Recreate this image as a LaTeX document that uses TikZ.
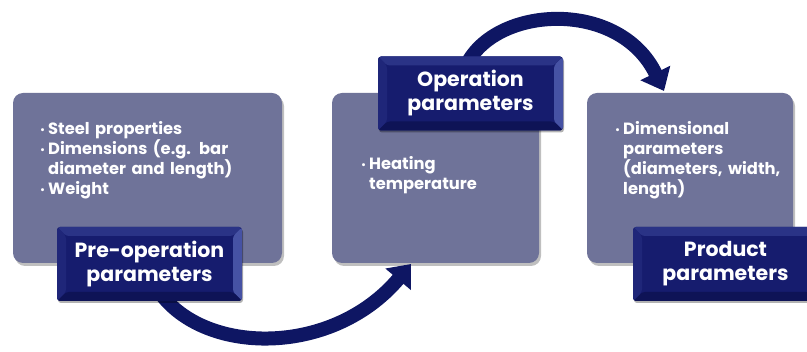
\documentclass[tikz,border=0pt]{standalone}
\usepackage{fontspec}
\setmainfont{Poppins}
\usetikzlibrary{arrows.meta,shadows}
\definecolor{boxc}{HTML}{6F7399}
\definecolor{navy}{HTML}{161C6E}
\definecolor{navyR}{HTML}{4652A4}
\definecolor{navyT}{HTML}{2A3386}
\definecolor{navyB}{HTML}{0E1356}
\definecolor{navyL}{HTML}{1F2679}
\definecolor{arrc}{HTML}{0E1663}
\newcommand\bitem[1]{\par\leftskip=8pt\noindent\hskip-8pt\makebox[8pt][l]{\raisebox{0.05ex}{\normalsize •}}#1\par}
\newcommand\nl{\hfil\break}
\tikzset{
  infobox/.style={fill=boxc, rounded corners=10pt, minimum width=#1, minimum height=170pt, inner sep=0pt,
    drop shadow={shadow xshift=2pt, shadow yshift=-3pt, opacity=0.25, fill=black}},
  boxtext/.style={text=white, align=left, anchor=north west, inner sep=0pt,
    font=\fontsize{16.3}{20}\selectfont\bfseries},
  lbl/.style={fill=navy, rounded corners=3pt, minimum width=185pt, minimum height=74pt, inner sep=0pt,
    text=white, align=center, font=\fontsize{20.5}{24}\selectfont\bfseries,
    path picture={
      \fill[navyR] (path picture bounding box.north east) -- (path picture bounding box.south east)
        -- ([shift={(-9pt,9pt)}]path picture bounding box.south east) -- ([shift={(-9pt,-9pt)}]path picture bounding box.north east) -- cycle;
      \fill[navyT] (path picture bounding box.north west) -- (path picture bounding box.north east)
        -- ([shift={(-9pt,-9pt)}]path picture bounding box.north east) -- ([shift={(9pt,-9pt)}]path picture bounding box.north west) -- cycle;
      \fill[navyB] (path picture bounding box.south west) -- (path picture bounding box.south east)
        -- ([shift={(-9pt,9pt)}]path picture bounding box.south east) -- ([shift={(9pt,9pt)}]path picture bounding box.south west) -- cycle;
      \fill[navyL] (path picture bounding box.north west) -- (path picture bounding box.south west)
        -- ([shift={(9pt,9pt)}]path picture bounding box.south west) -- ([shift={(9pt,-9pt)}]path picture bounding box.north west) -- cycle;
    },
    drop shadow={shadow xshift=1pt, shadow yshift=-2pt, opacity=0.3, fill=black}},
  flow/.style={draw=arrc, line width=14pt, -{Triangle[width=32pt,length=20pt]}}
}
\begin{document}
\begin{tikzpicture}[x=1pt,y=-1pt]
\useasboundingbox (0,0) rectangle (807,352);
% boxes
\node[infobox=269pt] (b1) at (147.5,178) {};
\node[infobox=207pt] (b2) at (435.5,178) {};
\node[infobox=206pt] (b3) at (690,178) {};
% arrows
\coordinate (s1) at (155,285);
\coordinate (e1) at (411,264);
\coordinate (s2) at (468,62);
\coordinate (e2) at (664,91);
\draw[flow] (s1) .. controls (195,355) and (330,360) .. (e1);
\draw[flow] (s2) .. controls (500,5) and (620,0) .. (e2);
% box texts
\node[boxtext, text width=240pt] (t1) at (40,114) {\bitem{Steel properties}\bitem{Dimensions (e.g. bar\nl diameter and length)}\bitem{Weight}};
\node[boxtext, text width=160pt] (t2) at (361,149) {\bitem{Heating\nl temperature}};
\node[boxtext, text width=185pt] (t3) at (615,114) {\bitem{Dimensional\nl parameters\nl (diameters, width,\nl length)}};
% labels
\node[lbl] (l1) at (149.5,264) {Pre-operation\\parameters};
\node[lbl] (l2) at (470.5,93.5) {Operation\\parameters};
\node[lbl] (l3) at (725.5,264) {Product\\parameters};
\end{tikzpicture}
\end{document}
